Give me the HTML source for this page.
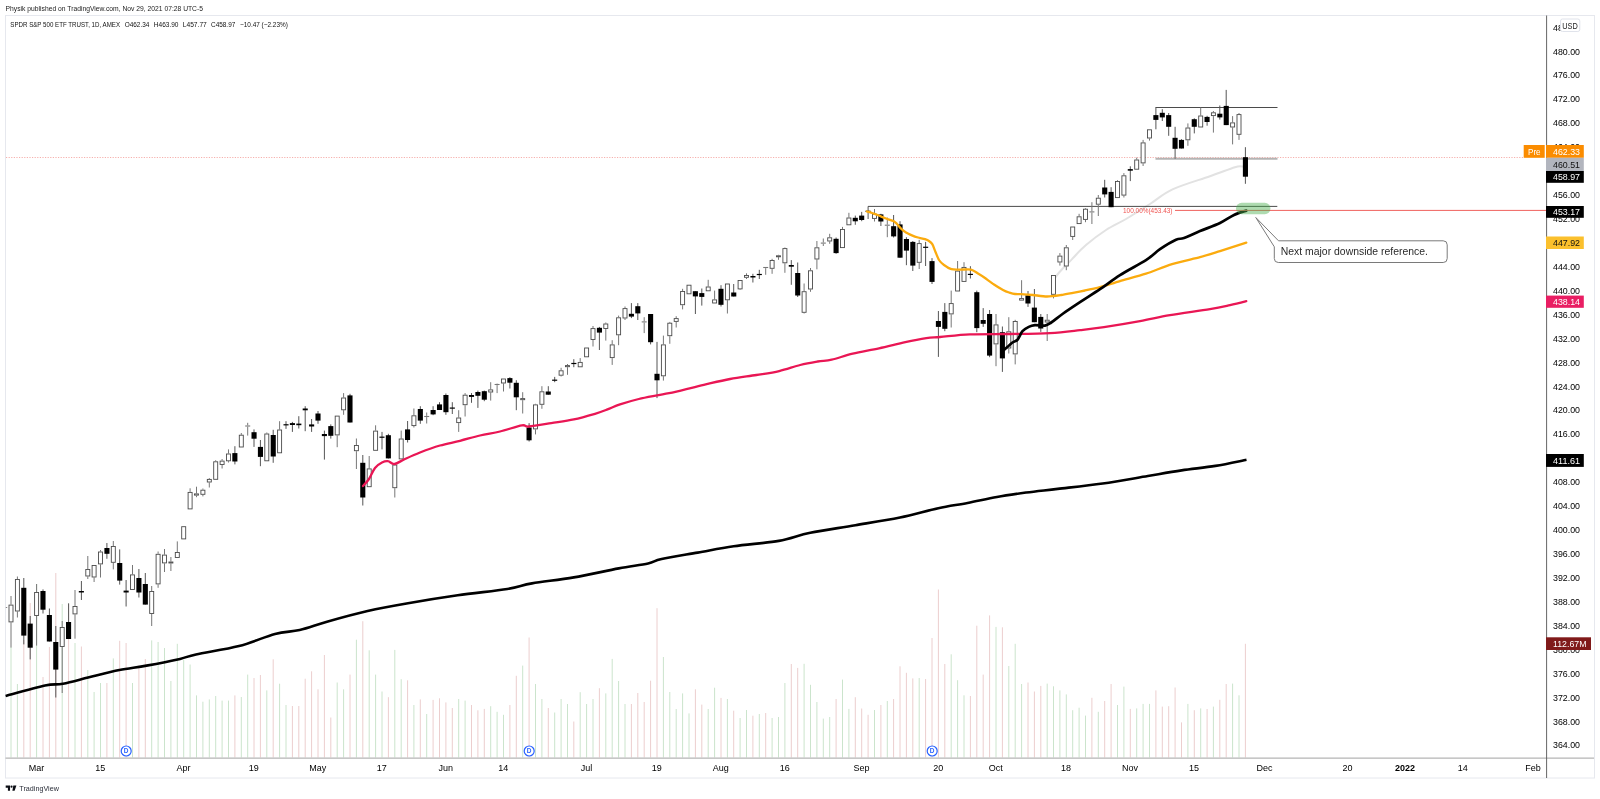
<!DOCTYPE html>
<html><head><meta charset="utf-8"><title>SPY chart</title>
<style>
html,body{margin:0;padding:0;background:#fff;}
body{width:1600px;height:799px;overflow:hidden;font-family:"Liberation Sans",sans-serif;}
svg{display:block;will-change:transform;}
svg text{font-family:"Liberation Sans",sans-serif;}
</style></head><body>
<svg width="1600" height="799" viewBox="0 0 1600 799">
<rect x="0" y="0" width="1600" height="799" fill="#fff"/>
<rect x="5.5" y="15.5" width="1589" height="762.5" fill="none" stroke="#e6e8ee" stroke-width="1"/>
<g stroke-width="1" fill="none">
<line x1="11.0" y1="647.0" x2="11.0" y2="757.5" stroke="#cbe4cc"/>
<line x1="17.4" y1="684.0" x2="17.4" y2="757.5" stroke="#cbe4cc"/>
<line x1="23.8" y1="640.0" x2="23.8" y2="757.5" stroke="#eccece"/>
<line x1="30.2" y1="603.0" x2="30.2" y2="757.5" stroke="#eccece"/>
<line x1="36.6" y1="584.0" x2="36.6" y2="757.5" stroke="#cbe4cc"/>
<line x1="43.0" y1="677.0" x2="43.0" y2="757.5" stroke="#eccece"/>
<line x1="49.4" y1="647.0" x2="49.4" y2="757.5" stroke="#eccece"/>
<line x1="55.8" y1="573.0" x2="55.8" y2="757.5" stroke="#eccece"/>
<line x1="62.2" y1="604.0" x2="62.2" y2="757.5" stroke="#cbe4cc"/>
<line x1="68.6" y1="604.0" x2="68.6" y2="757.5" stroke="#eccece"/>
<line x1="75.0" y1="643.0" x2="75.0" y2="757.5" stroke="#cbe4cc"/>
<line x1="81.4" y1="646.5" x2="81.4" y2="757.5" stroke="#eccece"/>
<line x1="87.8" y1="670.0" x2="87.8" y2="757.5" stroke="#cbe4cc"/>
<line x1="94.1" y1="692.0" x2="94.1" y2="757.5" stroke="#cbe4cc"/>
<line x1="100.5" y1="683.0" x2="100.5" y2="757.5" stroke="#cbe4cc"/>
<line x1="106.9" y1="683.0" x2="106.9" y2="757.5" stroke="#eccece"/>
<line x1="113.3" y1="658.4" x2="113.3" y2="757.5" stroke="#cbe4cc"/>
<line x1="119.7" y1="640.8" x2="119.7" y2="757.5" stroke="#eccece"/>
<line x1="126.1" y1="643.0" x2="126.1" y2="757.5" stroke="#eccece"/>
<line x1="132.5" y1="683.0" x2="132.5" y2="757.5" stroke="#cbe4cc"/>
<line x1="138.9" y1="665.6" x2="138.9" y2="757.5" stroke="#eccece"/>
<line x1="145.3" y1="659.0" x2="145.3" y2="757.5" stroke="#eccece"/>
<line x1="151.7" y1="640.4" x2="151.7" y2="757.5" stroke="#cbe4cc"/>
<line x1="158.1" y1="642.0" x2="158.1" y2="757.5" stroke="#cbe4cc"/>
<line x1="164.5" y1="648.0" x2="164.5" y2="757.5" stroke="#cbe4cc"/>
<line x1="170.9" y1="681.0" x2="170.9" y2="757.5" stroke="#cbe4cc"/>
<line x1="177.3" y1="643.8" x2="177.3" y2="757.5" stroke="#cbe4cc"/>
<line x1="183.7" y1="660.0" x2="183.7" y2="757.5" stroke="#cbe4cc"/>
<line x1="190.1" y1="664.5" x2="190.1" y2="757.5" stroke="#cbe4cc"/>
<line x1="196.5" y1="695.4" x2="196.5" y2="757.5" stroke="#cbe4cc"/>
<line x1="202.9" y1="701.7" x2="202.9" y2="757.5" stroke="#cbe4cc"/>
<line x1="209.3" y1="699.4" x2="209.3" y2="757.5" stroke="#cbe4cc"/>
<line x1="215.7" y1="696.0" x2="215.7" y2="757.5" stroke="#cbe4cc"/>
<line x1="222.1" y1="700.6" x2="222.1" y2="757.5" stroke="#cbe4cc"/>
<line x1="228.5" y1="700.6" x2="228.5" y2="757.5" stroke="#cbe4cc"/>
<line x1="234.9" y1="695.4" x2="234.9" y2="757.5" stroke="#eccece"/>
<line x1="241.3" y1="697.0" x2="241.3" y2="757.5" stroke="#cbe4cc"/>
<line x1="247.7" y1="674.6" x2="247.7" y2="757.5" stroke="#cbe4cc"/>
<line x1="254.0" y1="678.0" x2="254.0" y2="757.5" stroke="#eccece"/>
<line x1="260.4" y1="675.0" x2="260.4" y2="757.5" stroke="#eccece"/>
<line x1="266.8" y1="690.4" x2="266.8" y2="757.5" stroke="#cbe4cc"/>
<line x1="273.2" y1="659.3" x2="273.2" y2="757.5" stroke="#eccece"/>
<line x1="279.6" y1="683.7" x2="279.6" y2="757.5" stroke="#cbe4cc"/>
<line x1="286.0" y1="705.0" x2="286.0" y2="757.5" stroke="#cbe4cc"/>
<line x1="292.4" y1="706.0" x2="292.4" y2="757.5" stroke="#eccece"/>
<line x1="298.8" y1="706.0" x2="298.8" y2="757.5" stroke="#eccece"/>
<line x1="305.2" y1="678.7" x2="305.2" y2="757.5" stroke="#eccece"/>
<line x1="311.6" y1="671.3" x2="311.6" y2="757.5" stroke="#eccece"/>
<line x1="318.0" y1="689.3" x2="318.0" y2="757.5" stroke="#eccece"/>
<line x1="324.4" y1="655.0" x2="324.4" y2="757.5" stroke="#eccece"/>
<line x1="330.8" y1="717.5" x2="330.8" y2="757.5" stroke="#eccece"/>
<line x1="337.2" y1="682.5" x2="337.2" y2="757.5" stroke="#cbe4cc"/>
<line x1="343.6" y1="689.3" x2="343.6" y2="757.5" stroke="#cbe4cc"/>
<line x1="350.0" y1="674.6" x2="350.0" y2="757.5" stroke="#eccece"/>
<line x1="356.4" y1="639.7" x2="356.4" y2="757.5" stroke="#cbe4cc"/>
<line x1="362.8" y1="621.2" x2="362.8" y2="757.5" stroke="#eccece"/>
<line x1="369.2" y1="650.3" x2="369.2" y2="757.5" stroke="#cbe4cc"/>
<line x1="375.6" y1="674.6" x2="375.6" y2="757.5" stroke="#cbe4cc"/>
<line x1="382.0" y1="691.5" x2="382.0" y2="757.5" stroke="#cbe4cc"/>
<line x1="388.4" y1="697.2" x2="388.4" y2="757.5" stroke="#eccece"/>
<line x1="394.8" y1="649.9" x2="394.8" y2="757.5" stroke="#cbe4cc"/>
<line x1="401.2" y1="679.2" x2="401.2" y2="757.5" stroke="#cbe4cc"/>
<line x1="407.6" y1="680.3" x2="407.6" y2="757.5" stroke="#eccece"/>
<line x1="413.9" y1="705.0" x2="413.9" y2="757.5" stroke="#cbe4cc"/>
<line x1="420.3" y1="699.4" x2="420.3" y2="757.5" stroke="#eccece"/>
<line x1="426.7" y1="714.0" x2="426.7" y2="757.5" stroke="#cbe4cc"/>
<line x1="433.1" y1="699.9" x2="433.1" y2="757.5" stroke="#eccece"/>
<line x1="439.5" y1="698.3" x2="439.5" y2="757.5" stroke="#eccece"/>
<line x1="445.9" y1="702.4" x2="445.9" y2="757.5" stroke="#eccece"/>
<line x1="452.3" y1="708.0" x2="452.3" y2="757.5" stroke="#eccece"/>
<line x1="458.7" y1="699.0" x2="458.7" y2="757.5" stroke="#cbe4cc"/>
<line x1="465.1" y1="700.6" x2="465.1" y2="757.5" stroke="#cbe4cc"/>
<line x1="471.5" y1="705.0" x2="471.5" y2="757.5" stroke="#eccece"/>
<line x1="477.9" y1="710.3" x2="477.9" y2="757.5" stroke="#eccece"/>
<line x1="484.3" y1="708.9" x2="484.3" y2="757.5" stroke="#eccece"/>
<line x1="490.7" y1="706.2" x2="490.7" y2="757.5" stroke="#cbe4cc"/>
<line x1="497.1" y1="711.8" x2="497.1" y2="757.5" stroke="#cbe4cc"/>
<line x1="503.5" y1="714.8" x2="503.5" y2="757.5" stroke="#cbe4cc"/>
<line x1="509.9" y1="705.0" x2="509.9" y2="757.5" stroke="#eccece"/>
<line x1="516.3" y1="675.8" x2="516.3" y2="757.5" stroke="#eccece"/>
<line x1="522.7" y1="665.6" x2="522.7" y2="757.5" stroke="#cbe4cc"/>
<line x1="529.1" y1="637.5" x2="529.1" y2="757.5" stroke="#eccece"/>
<line x1="535.5" y1="684.0" x2="535.5" y2="757.5" stroke="#cbe4cc"/>
<line x1="541.9" y1="699.0" x2="541.9" y2="757.5" stroke="#cbe4cc"/>
<line x1="548.3" y1="708.0" x2="548.3" y2="757.5" stroke="#eccece"/>
<line x1="554.7" y1="712.5" x2="554.7" y2="757.5" stroke="#cbe4cc"/>
<line x1="561.1" y1="699.0" x2="561.1" y2="757.5" stroke="#cbe4cc"/>
<line x1="567.5" y1="704.0" x2="567.5" y2="757.5" stroke="#cbe4cc"/>
<line x1="573.8" y1="721.5" x2="573.8" y2="757.5" stroke="#eccece"/>
<line x1="580.2" y1="692.2" x2="580.2" y2="757.5" stroke="#cbe4cc"/>
<line x1="586.6" y1="704.0" x2="586.6" y2="757.5" stroke="#cbe4cc"/>
<line x1="593.0" y1="699.0" x2="593.0" y2="757.5" stroke="#cbe4cc"/>
<line x1="599.4" y1="688.2" x2="599.4" y2="757.5" stroke="#eccece"/>
<line x1="605.8" y1="693.4" x2="605.8" y2="757.5" stroke="#cbe4cc"/>
<line x1="612.2" y1="658.9" x2="612.2" y2="757.5" stroke="#cbe4cc"/>
<line x1="618.6" y1="681.0" x2="618.6" y2="757.5" stroke="#cbe4cc"/>
<line x1="625.0" y1="704.0" x2="625.0" y2="757.5" stroke="#cbe4cc"/>
<line x1="631.4" y1="704.0" x2="631.4" y2="757.5" stroke="#eccece"/>
<line x1="637.8" y1="693.0" x2="637.8" y2="757.5" stroke="#eccece"/>
<line x1="644.2" y1="702.0" x2="644.2" y2="757.5" stroke="#eccece"/>
<line x1="650.6" y1="680.7" x2="650.6" y2="757.5" stroke="#eccece"/>
<line x1="657.0" y1="608.2" x2="657.0" y2="757.5" stroke="#eccece"/>
<line x1="663.4" y1="657.0" x2="663.4" y2="757.5" stroke="#cbe4cc"/>
<line x1="669.8" y1="692.0" x2="669.8" y2="757.5" stroke="#cbe4cc"/>
<line x1="676.2" y1="709.0" x2="676.2" y2="757.5" stroke="#cbe4cc"/>
<line x1="682.6" y1="693.4" x2="682.6" y2="757.5" stroke="#cbe4cc"/>
<line x1="689.0" y1="713.4" x2="689.0" y2="757.5" stroke="#cbe4cc"/>
<line x1="695.4" y1="689.3" x2="695.4" y2="757.5" stroke="#eccece"/>
<line x1="701.8" y1="704.6" x2="701.8" y2="757.5" stroke="#eccece"/>
<line x1="708.2" y1="709.0" x2="708.2" y2="757.5" stroke="#cbe4cc"/>
<line x1="714.6" y1="687.7" x2="714.6" y2="757.5" stroke="#cbe4cc"/>
<line x1="721.0" y1="697.9" x2="721.0" y2="757.5" stroke="#eccece"/>
<line x1="727.4" y1="699.0" x2="727.4" y2="757.5" stroke="#cbe4cc"/>
<line x1="733.7" y1="710.7" x2="733.7" y2="757.5" stroke="#eccece"/>
<line x1="740.1" y1="718.0" x2="740.1" y2="757.5" stroke="#cbe4cc"/>
<line x1="746.5" y1="710.0" x2="746.5" y2="757.5" stroke="#cbe4cc"/>
<line x1="752.9" y1="715.7" x2="752.9" y2="757.5" stroke="#eccece"/>
<line x1="759.3" y1="714.0" x2="759.3" y2="757.5" stroke="#cbe4cc"/>
<line x1="765.7" y1="713.0" x2="765.7" y2="757.5" stroke="#eccece"/>
<line x1="772.1" y1="718.0" x2="772.1" y2="757.5" stroke="#cbe4cc"/>
<line x1="778.5" y1="717.0" x2="778.5" y2="757.5" stroke="#cbe4cc"/>
<line x1="784.9" y1="683.0" x2="784.9" y2="757.5" stroke="#cbe4cc"/>
<line x1="791.3" y1="664.0" x2="791.3" y2="757.5" stroke="#eccece"/>
<line x1="797.7" y1="667.9" x2="797.7" y2="757.5" stroke="#eccece"/>
<line x1="804.1" y1="663.8" x2="804.1" y2="757.5" stroke="#cbe4cc"/>
<line x1="810.5" y1="684.8" x2="810.5" y2="757.5" stroke="#cbe4cc"/>
<line x1="816.9" y1="702.0" x2="816.9" y2="757.5" stroke="#cbe4cc"/>
<line x1="823.3" y1="718.6" x2="823.3" y2="757.5" stroke="#cbe4cc"/>
<line x1="829.7" y1="717.0" x2="829.7" y2="757.5" stroke="#cbe4cc"/>
<line x1="836.1" y1="699.0" x2="836.1" y2="757.5" stroke="#eccece"/>
<line x1="842.5" y1="679.6" x2="842.5" y2="757.5" stroke="#cbe4cc"/>
<line x1="848.9" y1="708.9" x2="848.9" y2="757.5" stroke="#cbe4cc"/>
<line x1="855.3" y1="697.2" x2="855.3" y2="757.5" stroke="#eccece"/>
<line x1="861.7" y1="708.5" x2="861.7" y2="757.5" stroke="#eccece"/>
<line x1="868.1" y1="714.8" x2="868.1" y2="757.5" stroke="#eccece"/>
<line x1="874.5" y1="710.0" x2="874.5" y2="757.5" stroke="#cbe4cc"/>
<line x1="880.9" y1="705.0" x2="880.9" y2="757.5" stroke="#eccece"/>
<line x1="887.3" y1="701.0" x2="887.3" y2="757.5" stroke="#cbe4cc"/>
<line x1="893.6" y1="699.0" x2="893.6" y2="757.5" stroke="#eccece"/>
<line x1="900.0" y1="666.3" x2="900.0" y2="757.5" stroke="#eccece"/>
<line x1="906.4" y1="672.8" x2="906.4" y2="757.5" stroke="#eccece"/>
<line x1="912.8" y1="678.4" x2="912.8" y2="757.5" stroke="#eccece"/>
<line x1="919.2" y1="678.0" x2="919.2" y2="757.5" stroke="#cbe4cc"/>
<line x1="925.6" y1="679.0" x2="925.6" y2="757.5" stroke="#eccece"/>
<line x1="932.0" y1="638.0" x2="932.0" y2="757.5" stroke="#eccece"/>
<line x1="938.4" y1="589.5" x2="938.4" y2="757.5" stroke="#eccece"/>
<line x1="944.8" y1="664.0" x2="944.8" y2="757.5" stroke="#eccece"/>
<line x1="951.2" y1="654.3" x2="951.2" y2="757.5" stroke="#cbe4cc"/>
<line x1="957.6" y1="680.2" x2="957.6" y2="757.5" stroke="#cbe4cc"/>
<line x1="964.0" y1="695.3" x2="964.0" y2="757.5" stroke="#cbe4cc"/>
<line x1="970.4" y1="696.0" x2="970.4" y2="757.5" stroke="#eccece"/>
<line x1="976.8" y1="625.7" x2="976.8" y2="757.5" stroke="#eccece"/>
<line x1="983.2" y1="674.6" x2="983.2" y2="757.5" stroke="#eccece"/>
<line x1="989.6" y1="615.4" x2="989.6" y2="757.5" stroke="#eccece"/>
<line x1="996.0" y1="626.9" x2="996.0" y2="757.5" stroke="#cbe4cc"/>
<line x1="1002.4" y1="627.3" x2="1002.4" y2="757.5" stroke="#eccece"/>
<line x1="1008.8" y1="666.0" x2="1008.8" y2="757.5" stroke="#cbe4cc"/>
<line x1="1015.2" y1="643.8" x2="1015.2" y2="757.5" stroke="#cbe4cc"/>
<line x1="1021.6" y1="684.0" x2="1021.6" y2="757.5" stroke="#cbe4cc"/>
<line x1="1028.0" y1="682.5" x2="1028.0" y2="757.5" stroke="#eccece"/>
<line x1="1034.4" y1="691.5" x2="1034.4" y2="757.5" stroke="#eccece"/>
<line x1="1040.8" y1="685.9" x2="1040.8" y2="757.5" stroke="#eccece"/>
<line x1="1047.2" y1="683.6" x2="1047.2" y2="757.5" stroke="#cbe4cc"/>
<line x1="1053.5" y1="686.3" x2="1053.5" y2="757.5" stroke="#cbe4cc"/>
<line x1="1059.9" y1="690.4" x2="1059.9" y2="757.5" stroke="#cbe4cc"/>
<line x1="1066.3" y1="694.4" x2="1066.3" y2="757.5" stroke="#cbe4cc"/>
<line x1="1072.7" y1="710.2" x2="1072.7" y2="757.5" stroke="#cbe4cc"/>
<line x1="1079.1" y1="707.7" x2="1079.1" y2="757.5" stroke="#cbe4cc"/>
<line x1="1085.5" y1="715.6" x2="1085.5" y2="757.5" stroke="#cbe4cc"/>
<line x1="1091.9" y1="697.8" x2="1091.9" y2="757.5" stroke="#eccece"/>
<line x1="1098.3" y1="711.8" x2="1098.3" y2="757.5" stroke="#cbe4cc"/>
<line x1="1104.7" y1="701.0" x2="1104.7" y2="757.5" stroke="#eccece"/>
<line x1="1111.1" y1="684.0" x2="1111.1" y2="757.5" stroke="#eccece"/>
<line x1="1117.5" y1="705.0" x2="1117.5" y2="757.5" stroke="#cbe4cc"/>
<line x1="1123.9" y1="686.6" x2="1123.9" y2="757.5" stroke="#cbe4cc"/>
<line x1="1130.3" y1="708.9" x2="1130.3" y2="757.5" stroke="#eccece"/>
<line x1="1136.7" y1="708.4" x2="1136.7" y2="757.5" stroke="#cbe4cc"/>
<line x1="1143.1" y1="703.9" x2="1143.1" y2="757.5" stroke="#cbe4cc"/>
<line x1="1149.5" y1="703.9" x2="1149.5" y2="757.5" stroke="#cbe4cc"/>
<line x1="1155.9" y1="690.4" x2="1155.9" y2="757.5" stroke="#eccece"/>
<line x1="1162.3" y1="706.6" x2="1162.3" y2="757.5" stroke="#eccece"/>
<line x1="1168.7" y1="706.2" x2="1168.7" y2="757.5" stroke="#eccece"/>
<line x1="1175.1" y1="687.5" x2="1175.1" y2="757.5" stroke="#eccece"/>
<line x1="1181.5" y1="722.4" x2="1181.5" y2="757.5" stroke="#eccece"/>
<line x1="1187.9" y1="703.9" x2="1187.9" y2="757.5" stroke="#cbe4cc"/>
<line x1="1194.3" y1="710.2" x2="1194.3" y2="757.5" stroke="#eccece"/>
<line x1="1200.7" y1="708.4" x2="1200.7" y2="757.5" stroke="#cbe4cc"/>
<line x1="1207.1" y1="709.0" x2="1207.1" y2="757.5" stroke="#eccece"/>
<line x1="1213.4" y1="706.6" x2="1213.4" y2="757.5" stroke="#cbe4cc"/>
<line x1="1219.8" y1="699.8" x2="1219.8" y2="757.5" stroke="#eccece"/>
<line x1="1226.2" y1="684.0" x2="1226.2" y2="757.5" stroke="#eccece"/>
<line x1="1232.6" y1="683.6" x2="1232.6" y2="757.5" stroke="#cbe4cc"/>
<line x1="1239.0" y1="695.3" x2="1239.0" y2="757.5" stroke="#cbe4cc"/>
<line x1="1245.4" y1="643.8" x2="1245.4" y2="757.5" stroke="#eccece"/>
</g>
<line x1="6" y1="157.5" x2="1523" y2="157.5" stroke="#f6b0ad" stroke-width="1" stroke-dasharray="1.2 1.4"/>
<path d="M1052.0,282.0 C1053.3,280.2 1056.7,275.3 1060.0,271.5 C1063.3,267.7 1067.7,263.5 1072.0,259.1 C1076.3,254.7 1080.3,249.9 1086.0,245.1 C1091.7,240.2 1099.3,234.3 1106.0,230.0 C1112.7,225.7 1118.7,223.3 1126.0,219.0 C1133.3,214.7 1142.2,208.9 1150.0,204.0 C1157.8,199.1 1162.5,194.0 1172.5,189.4 C1182.5,184.8 1199.6,179.9 1210.0,176.2 C1220.4,172.6 1229.5,168.9 1235.0,167.2 C1240.5,165.6 1241.7,166.7 1243.0,166.6" fill="none" stroke="#e2e2e2" stroke-width="2" stroke-linecap="round"/>
<line x1="1155.5" y1="158.8" x2="1277.5" y2="158.8" stroke="#b4b4b4" stroke-width="2"/>
<line x1="1155.5" y1="107.5" x2="1277.5" y2="107.5" stroke="#2a2a2a" stroke-width="0.85"/>
<line x1="868" y1="206.4" x2="1277.3" y2="206.4" stroke="#2a2a2a" stroke-width="0.85"/>
<g>
<line x1="5.8" y1="607.5" x2="7.2" y2="607.5" stroke="#888" stroke-width="1"/>
<line x1="11.0" y1="596.0" x2="11.0" y2="604.6" stroke="#777" stroke-width="1"/>
<line x1="11.0" y1="622.4" x2="11.0" y2="647.5" stroke="#777" stroke-width="1"/>
<rect x="9.0" y="605.1" width="4" height="16.8" fill="#fff" stroke="#4a4a4a" stroke-width="0.9"/>
<line x1="17.4" y1="576.5" x2="17.4" y2="579.0" stroke="#777" stroke-width="1"/>
<line x1="17.4" y1="611.5" x2="17.4" y2="617.5" stroke="#777" stroke-width="1"/>
<rect x="15.4" y="579.5" width="4" height="31.5" fill="#fff" stroke="#4a4a4a" stroke-width="0.9"/>
<line x1="23.8" y1="578.0" x2="23.8" y2="644.4" stroke="#555" stroke-width="1"/>
<rect x="21.24" y="587.8" width="5.1" height="47.8" fill="#000"/>
<line x1="30.2" y1="616.0" x2="30.2" y2="659.4" stroke="#555" stroke-width="1"/>
<rect x="27.64" y="623.6" width="5.1" height="24.1" fill="#000"/>
<line x1="36.6" y1="584.0" x2="36.6" y2="592.0" stroke="#777" stroke-width="1"/>
<line x1="36.6" y1="616.0" x2="36.6" y2="645.6" stroke="#777" stroke-width="1"/>
<rect x="34.6" y="592.5" width="4" height="23.0" fill="#fff" stroke="#4a4a4a" stroke-width="0.9"/>
<line x1="43.0" y1="589.4" x2="43.0" y2="613.5" stroke="#555" stroke-width="1"/>
<rect x="40.43" y="591.0" width="5.1" height="18.7" fill="#000"/>
<line x1="49.4" y1="608.5" x2="49.4" y2="641.5" stroke="#555" stroke-width="1"/>
<rect x="46.83" y="615.0" width="5.1" height="26.5" fill="#000"/>
<line x1="55.8" y1="626.0" x2="55.8" y2="697.5" stroke="#555" stroke-width="1"/>
<rect x="53.22" y="642.0" width="5.1" height="27.6" fill="#000"/>
<line x1="62.2" y1="621.0" x2="62.2" y2="627.0" stroke="#777" stroke-width="1"/>
<line x1="62.2" y1="647.0" x2="62.2" y2="693.0" stroke="#777" stroke-width="1"/>
<rect x="60.2" y="627.5" width="4" height="19.0" fill="#fff" stroke="#4a4a4a" stroke-width="0.9"/>
<line x1="68.6" y1="603.3" x2="68.6" y2="639.0" stroke="#555" stroke-width="1"/>
<rect x="66.01" y="622.0" width="5.1" height="17.0" fill="#000"/>
<line x1="75.0" y1="590.0" x2="75.0" y2="606.0" stroke="#777" stroke-width="1"/>
<line x1="75.0" y1="614.4" x2="75.0" y2="638.7" stroke="#777" stroke-width="1"/>
<rect x="73.0" y="606.5" width="4" height="7.4" fill="#fff" stroke="#4a4a4a" stroke-width="0.9"/>
<line x1="81.4" y1="581.0" x2="81.4" y2="600.0" stroke="#555" stroke-width="1"/>
<rect x="78.81" y="591.0" width="5.1" height="1.5" fill="#000"/>
<line x1="87.8" y1="556.0" x2="87.8" y2="569.0" stroke="#777" stroke-width="1"/>
<line x1="87.8" y1="576.5" x2="87.8" y2="579.0" stroke="#777" stroke-width="1"/>
<rect x="85.8" y="569.5" width="4" height="6.5" fill="#fff" stroke="#4a4a4a" stroke-width="0.9"/>
<line x1="94.1" y1="577.5" x2="94.1" y2="582.0" stroke="#777" stroke-width="1"/>
<rect x="92.1" y="565.5" width="4" height="11.5" fill="#fff" stroke="#4a4a4a" stroke-width="0.9"/>
<line x1="100.5" y1="550.0" x2="100.5" y2="551.5" stroke="#777" stroke-width="1"/>
<line x1="100.5" y1="564.4" x2="100.5" y2="577.5" stroke="#777" stroke-width="1"/>
<rect x="98.5" y="552.0" width="4" height="11.9" fill="#fff" stroke="#4a4a4a" stroke-width="0.9"/>
<line x1="106.9" y1="543.0" x2="106.9" y2="558.8" stroke="#555" stroke-width="1"/>
<rect x="104.39" y="548.0" width="5.1" height="5.8" fill="#000"/>
<line x1="113.3" y1="541.0" x2="113.3" y2="546.0" stroke="#777" stroke-width="1"/>
<line x1="113.3" y1="562.8" x2="113.3" y2="569.4" stroke="#777" stroke-width="1"/>
<rect x="111.3" y="546.5" width="4" height="15.8" fill="#fff" stroke="#4a4a4a" stroke-width="0.9"/>
<line x1="119.7" y1="549.4" x2="119.7" y2="584.6" stroke="#555" stroke-width="1"/>
<rect x="117.18" y="563.0" width="5.1" height="17.6" fill="#000"/>
<line x1="126.1" y1="580.0" x2="126.1" y2="606.5" stroke="#555" stroke-width="1"/>
<rect x="123.58" y="590.6" width="5.1" height="1.9" fill="#000"/>
<line x1="132.5" y1="565.0" x2="132.5" y2="574.4" stroke="#777" stroke-width="1"/>
<rect x="130.5" y="574.9" width="4" height="14.6" fill="#fff" stroke="#4a4a4a" stroke-width="0.9"/>
<line x1="138.9" y1="569.0" x2="138.9" y2="597.5" stroke="#555" stroke-width="1"/>
<rect x="136.37" y="578.0" width="5.1" height="14.5" fill="#000"/>
<line x1="145.3" y1="573.0" x2="145.3" y2="604.6" stroke="#555" stroke-width="1"/>
<rect x="142.77" y="584.0" width="5.1" height="20.6" fill="#000"/>
<line x1="151.7" y1="586.0" x2="151.7" y2="591.0" stroke="#777" stroke-width="1"/>
<line x1="151.7" y1="614.0" x2="151.7" y2="626.0" stroke="#777" stroke-width="1"/>
<rect x="149.7" y="591.5" width="4" height="22.0" fill="#fff" stroke="#4a4a4a" stroke-width="0.9"/>
<line x1="158.1" y1="551.5" x2="158.1" y2="553.8" stroke="#777" stroke-width="1"/>
<line x1="158.1" y1="584.4" x2="158.1" y2="587.8" stroke="#777" stroke-width="1"/>
<rect x="156.1" y="554.3" width="4" height="29.6" fill="#fff" stroke="#4a4a4a" stroke-width="0.9"/>
<line x1="164.5" y1="549.0" x2="164.5" y2="554.6" stroke="#777" stroke-width="1"/>
<line x1="164.5" y1="563.4" x2="164.5" y2="572.0" stroke="#777" stroke-width="1"/>
<rect x="162.5" y="555.1" width="4" height="7.8" fill="#fff" stroke="#4a4a4a" stroke-width="0.9"/>
<line x1="170.9" y1="557.0" x2="170.9" y2="561.5" stroke="#777" stroke-width="1"/>
<line x1="170.9" y1="563.5" x2="170.9" y2="571.0" stroke="#777" stroke-width="1"/>
<rect x="168.9" y="562.0" width="4" height="1.0" fill="#fff" stroke="#4a4a4a" stroke-width="0.9"/>
<line x1="177.3" y1="541.4" x2="177.3" y2="552.0" stroke="#777" stroke-width="1"/>
<rect x="175.3" y="552.5" width="4" height="5.0" fill="#fff" stroke="#4a4a4a" stroke-width="0.9"/>
<rect x="181.7" y="526.7" width="4" height="12.2" fill="#fff" stroke="#4a4a4a" stroke-width="0.9"/>
<line x1="190.1" y1="488.3" x2="190.1" y2="491.9" stroke="#777" stroke-width="1"/>
<rect x="188.1" y="492.4" width="4" height="16.5" fill="#fff" stroke="#4a4a4a" stroke-width="0.9"/>
<line x1="196.5" y1="486.7" x2="196.5" y2="493.4" stroke="#777" stroke-width="1"/>
<line x1="196.5" y1="495.6" x2="196.5" y2="497.2" stroke="#777" stroke-width="1"/>
<rect x="194.5" y="493.9" width="4" height="1.2" fill="#fff" stroke="#4a4a4a" stroke-width="0.9"/>
<line x1="202.9" y1="488.5" x2="202.9" y2="489.7" stroke="#777" stroke-width="1"/>
<line x1="202.9" y1="494.8" x2="202.9" y2="496.4" stroke="#777" stroke-width="1"/>
<rect x="200.9" y="490.2" width="4" height="4.1" fill="#fff" stroke="#4a4a4a" stroke-width="0.9"/>
<line x1="209.3" y1="478.0" x2="209.3" y2="478.9" stroke="#777" stroke-width="1"/>
<line x1="209.3" y1="482.5" x2="209.3" y2="487.5" stroke="#777" stroke-width="1"/>
<rect x="207.3" y="479.4" width="4" height="2.6" fill="#fff" stroke="#4a4a4a" stroke-width="0.9"/>
<line x1="215.7" y1="460.2" x2="215.7" y2="461.2" stroke="#777" stroke-width="1"/>
<rect x="213.7" y="461.8" width="4" height="17.5" fill="#fff" stroke="#4a4a4a" stroke-width="0.9"/>
<line x1="222.1" y1="459.0" x2="222.1" y2="460.6" stroke="#777" stroke-width="1"/>
<line x1="222.1" y1="465.0" x2="222.1" y2="468.5" stroke="#777" stroke-width="1"/>
<rect x="220.1" y="461.1" width="4" height="3.4" fill="#fff" stroke="#4a4a4a" stroke-width="0.9"/>
<line x1="228.5" y1="449.4" x2="228.5" y2="453.5" stroke="#777" stroke-width="1"/>
<line x1="228.5" y1="461.2" x2="228.5" y2="462.5" stroke="#777" stroke-width="1"/>
<rect x="226.5" y="454.0" width="4" height="6.8" fill="#fff" stroke="#4a4a4a" stroke-width="0.9"/>
<line x1="234.9" y1="446.2" x2="234.9" y2="464.4" stroke="#555" stroke-width="1"/>
<rect x="232.31" y="453.1" width="5.1" height="8.4" fill="#000"/>
<line x1="241.3" y1="433.0" x2="241.3" y2="434.8" stroke="#777" stroke-width="1"/>
<rect x="239.3" y="435.2" width="4" height="11.8" fill="#fff" stroke="#4a4a4a" stroke-width="0.9"/>
<line x1="247.7" y1="422.8" x2="247.7" y2="425.4" stroke="#777" stroke-width="1"/>
<line x1="247.7" y1="426.6" x2="247.7" y2="435.6" stroke="#777" stroke-width="1"/>
<line x1="245.2" y1="426.0" x2="250.2" y2="426.0" stroke="#777" stroke-width="1.1"/>
<line x1="254.0" y1="429.4" x2="254.0" y2="446.9" stroke="#555" stroke-width="1"/>
<rect x="251.50" y="432.2" width="5.1" height="6.5" fill="#000"/>
<line x1="260.4" y1="440.0" x2="260.4" y2="466.2" stroke="#555" stroke-width="1"/>
<rect x="257.89" y="446.9" width="5.1" height="10.0" fill="#000"/>
<line x1="266.8" y1="432.5" x2="266.8" y2="433.5" stroke="#777" stroke-width="1"/>
<rect x="264.8" y="434.0" width="4" height="26.8" fill="#fff" stroke="#4a4a4a" stroke-width="0.9"/>
<line x1="273.2" y1="429.8" x2="273.2" y2="462.8" stroke="#555" stroke-width="1"/>
<rect x="270.69" y="435.0" width="5.1" height="21.5" fill="#000"/>
<line x1="279.6" y1="421.2" x2="279.6" y2="429.5" stroke="#777" stroke-width="1"/>
<rect x="277.6" y="430.0" width="4" height="22.8" fill="#fff" stroke="#4a4a4a" stroke-width="0.9"/>
<line x1="286.0" y1="421.2" x2="286.0" y2="428.9" stroke="#555" stroke-width="1"/>
<rect x="283.48" y="424.2" width="5.1" height="1.2" fill="#000"/>
<line x1="292.4" y1="421.9" x2="292.4" y2="431.9" stroke="#555" stroke-width="1"/>
<rect x="289.87" y="423.1" width="5.1" height="1.9" fill="#000"/>
<line x1="298.8" y1="416.2" x2="298.8" y2="428.5" stroke="#555" stroke-width="1"/>
<rect x="296.27" y="423.6" width="5.1" height="1.6" fill="#000"/>
<line x1="305.2" y1="406.2" x2="305.2" y2="431.2" stroke="#555" stroke-width="1"/>
<rect x="302.67" y="408.5" width="5.1" height="1.8" fill="#000"/>
<line x1="311.6" y1="419.0" x2="311.6" y2="431.9" stroke="#555" stroke-width="1"/>
<rect x="309.06" y="424.4" width="5.1" height="2.1" fill="#000"/>
<line x1="318.0" y1="411.0" x2="318.0" y2="423.8" stroke="#555" stroke-width="1"/>
<rect x="315.46" y="413.5" width="5.1" height="7.1" fill="#000"/>
<line x1="324.4" y1="430.6" x2="324.4" y2="459.6" stroke="#555" stroke-width="1"/>
<rect x="321.85" y="434.0" width="5.1" height="2.1" fill="#000"/>
<line x1="330.8" y1="424.4" x2="330.8" y2="438.6" stroke="#555" stroke-width="1"/>
<rect x="328.25" y="426.1" width="5.1" height="9.7" fill="#000"/>
<line x1="337.2" y1="435.4" x2="337.2" y2="447.2" stroke="#777" stroke-width="1"/>
<rect x="335.2" y="416.1" width="4" height="18.8" fill="#fff" stroke="#4a4a4a" stroke-width="0.9"/>
<line x1="343.6" y1="393.1" x2="343.6" y2="397.5" stroke="#777" stroke-width="1"/>
<line x1="343.6" y1="410.2" x2="343.6" y2="414.8" stroke="#777" stroke-width="1"/>
<rect x="341.6" y="398.0" width="4" height="11.8" fill="#fff" stroke="#4a4a4a" stroke-width="0.9"/>
<line x1="350.0" y1="393.8" x2="350.0" y2="422.5" stroke="#555" stroke-width="1"/>
<rect x="347.44" y="395.4" width="5.1" height="27.1" fill="#000"/>
<line x1="356.4" y1="438.5" x2="356.4" y2="445.0" stroke="#777" stroke-width="1"/>
<line x1="356.4" y1="451.2" x2="356.4" y2="469.0" stroke="#777" stroke-width="1"/>
<rect x="354.4" y="445.5" width="4" height="5.2" fill="#fff" stroke="#4a4a4a" stroke-width="0.9"/>
<line x1="362.8" y1="455.0" x2="362.8" y2="505.5" stroke="#555" stroke-width="1"/>
<rect x="360.23" y="462.8" width="5.1" height="34.7" fill="#000"/>
<line x1="369.2" y1="456.0" x2="369.2" y2="468.4" stroke="#777" stroke-width="1"/>
<rect x="367.2" y="468.9" width="4" height="17.8" fill="#fff" stroke="#4a4a4a" stroke-width="0.9"/>
<line x1="375.6" y1="425.3" x2="375.6" y2="430.6" stroke="#777" stroke-width="1"/>
<rect x="373.6" y="431.1" width="4" height="19.2" fill="#fff" stroke="#4a4a4a" stroke-width="0.9"/>
<line x1="382.0" y1="431.9" x2="382.0" y2="449.4" stroke="#555" stroke-width="1"/>
<rect x="379.42" y="436.6" width="5.1" height="1.2" fill="#000"/>
<line x1="388.4" y1="433.8" x2="388.4" y2="458.5" stroke="#555" stroke-width="1"/>
<rect x="385.81" y="435.2" width="5.1" height="23.2" fill="#000"/>
<line x1="394.8" y1="488.2" x2="394.8" y2="497.5" stroke="#777" stroke-width="1"/>
<rect x="392.8" y="465.0" width="4" height="22.7" fill="#fff" stroke="#4a4a4a" stroke-width="0.9"/>
<line x1="401.2" y1="430.6" x2="401.2" y2="438.5" stroke="#777" stroke-width="1"/>
<rect x="399.2" y="439.0" width="4" height="19.9" fill="#fff" stroke="#4a4a4a" stroke-width="0.9"/>
<line x1="407.6" y1="421.0" x2="407.6" y2="442.5" stroke="#555" stroke-width="1"/>
<rect x="405.00" y="429.4" width="5.1" height="10.6" fill="#000"/>
<line x1="413.9" y1="408.5" x2="413.9" y2="415.2" stroke="#777" stroke-width="1"/>
<line x1="413.9" y1="426.0" x2="413.9" y2="427.5" stroke="#777" stroke-width="1"/>
<rect x="411.9" y="415.8" width="4" height="9.8" fill="#fff" stroke="#4a4a4a" stroke-width="0.9"/>
<line x1="420.3" y1="406.2" x2="420.3" y2="423.8" stroke="#555" stroke-width="1"/>
<rect x="417.79" y="409.0" width="5.1" height="11.6" fill="#000"/>
<line x1="426.7" y1="412.5" x2="426.7" y2="415.9" stroke="#777" stroke-width="1"/>
<line x1="426.7" y1="417.1" x2="426.7" y2="423.5" stroke="#777" stroke-width="1"/>
<line x1="424.2" y1="416.5" x2="429.2" y2="416.5" stroke="#777" stroke-width="1.1"/>
<line x1="433.1" y1="406.2" x2="433.1" y2="415.2" stroke="#555" stroke-width="1"/>
<rect x="430.59" y="410.0" width="5.1" height="4.4" fill="#000"/>
<line x1="439.5" y1="402.2" x2="439.5" y2="410.0" stroke="#555" stroke-width="1"/>
<rect x="436.98" y="404.4" width="5.1" height="5.6" fill="#000"/>
<line x1="445.9" y1="393.5" x2="445.9" y2="414.8" stroke="#555" stroke-width="1"/>
<rect x="443.38" y="395.0" width="5.1" height="17.2" fill="#000"/>
<line x1="452.3" y1="402.2" x2="452.3" y2="414.0" stroke="#555" stroke-width="1"/>
<rect x="449.77" y="407.5" width="5.1" height="1.2" fill="#000"/>
<line x1="458.7" y1="410.2" x2="458.7" y2="417.5" stroke="#777" stroke-width="1"/>
<line x1="458.7" y1="423.1" x2="458.7" y2="431.9" stroke="#777" stroke-width="1"/>
<rect x="456.7" y="418.0" width="4" height="4.6" fill="#fff" stroke="#4a4a4a" stroke-width="0.9"/>
<line x1="465.1" y1="393.1" x2="465.1" y2="394.8" stroke="#777" stroke-width="1"/>
<line x1="465.1" y1="405.2" x2="465.1" y2="416.5" stroke="#777" stroke-width="1"/>
<rect x="463.1" y="395.2" width="4" height="9.5" fill="#fff" stroke="#4a4a4a" stroke-width="0.9"/>
<line x1="471.5" y1="393.1" x2="471.5" y2="402.8" stroke="#555" stroke-width="1"/>
<rect x="468.96" y="395.0" width="5.1" height="1.9" fill="#000"/>
<line x1="477.9" y1="390.6" x2="477.9" y2="407.9" stroke="#555" stroke-width="1"/>
<rect x="475.36" y="392.0" width="5.1" height="3.8" fill="#000"/>
<line x1="484.3" y1="390.6" x2="484.3" y2="401.2" stroke="#555" stroke-width="1"/>
<rect x="481.75" y="391.2" width="5.1" height="8.5" fill="#000"/>
<line x1="490.7" y1="382.2" x2="490.7" y2="389.4" stroke="#777" stroke-width="1"/>
<line x1="490.7" y1="392.5" x2="490.7" y2="400.6" stroke="#777" stroke-width="1"/>
<rect x="488.7" y="389.9" width="4" height="2.1" fill="#fff" stroke="#4a4a4a" stroke-width="0.9"/>
<line x1="497.1" y1="383.5" x2="497.1" y2="383.9" stroke="#777" stroke-width="1"/>
<line x1="497.1" y1="385.1" x2="497.1" y2="393.1" stroke="#777" stroke-width="1"/>
<line x1="494.6" y1="384.5" x2="499.6" y2="384.5" stroke="#777" stroke-width="1.1"/>
<line x1="503.5" y1="383.5" x2="503.5" y2="391.5" stroke="#777" stroke-width="1"/>
<rect x="501.5" y="379.0" width="4" height="4.0" fill="#fff" stroke="#4a4a4a" stroke-width="0.9"/>
<line x1="509.9" y1="377.2" x2="509.9" y2="388.5" stroke="#555" stroke-width="1"/>
<rect x="507.34" y="378.1" width="5.1" height="4.6" fill="#000"/>
<line x1="516.3" y1="380.2" x2="516.3" y2="410.2" stroke="#555" stroke-width="1"/>
<rect x="513.73" y="382.8" width="5.1" height="14.5" fill="#000"/>
<line x1="522.7" y1="392.2" x2="522.7" y2="398.1" stroke="#777" stroke-width="1"/>
<line x1="522.7" y1="400.2" x2="522.7" y2="413.5" stroke="#777" stroke-width="1"/>
<rect x="520.7" y="398.6" width="4" height="1.1" fill="#fff" stroke="#4a4a4a" stroke-width="0.9"/>
<line x1="529.1" y1="423.1" x2="529.1" y2="441.5" stroke="#555" stroke-width="1"/>
<rect x="526.53" y="427.5" width="5.1" height="12.8" fill="#000"/>
<line x1="535.5" y1="403.8" x2="535.5" y2="404.4" stroke="#777" stroke-width="1"/>
<line x1="535.5" y1="429.4" x2="535.5" y2="434.4" stroke="#777" stroke-width="1"/>
<rect x="533.5" y="404.9" width="4" height="24.0" fill="#fff" stroke="#4a4a4a" stroke-width="0.9"/>
<line x1="541.9" y1="386.2" x2="541.9" y2="391.2" stroke="#777" stroke-width="1"/>
<line x1="541.9" y1="404.8" x2="541.9" y2="408.8" stroke="#777" stroke-width="1"/>
<rect x="539.9" y="391.8" width="4" height="12.5" fill="#fff" stroke="#4a4a4a" stroke-width="0.9"/>
<line x1="548.3" y1="386.2" x2="548.3" y2="394.8" stroke="#555" stroke-width="1"/>
<rect x="545.71" y="391.5" width="5.1" height="3.2" fill="#000"/>
<line x1="554.7" y1="376.9" x2="554.7" y2="382.2" stroke="#555" stroke-width="1"/>
<rect x="552.11" y="379.6" width="5.1" height="1.2" fill="#000"/>
<line x1="561.1" y1="367.8" x2="561.1" y2="370.2" stroke="#777" stroke-width="1"/>
<line x1="561.1" y1="375.6" x2="561.1" y2="376.5" stroke="#777" stroke-width="1"/>
<rect x="559.1" y="370.8" width="4" height="4.4" fill="#fff" stroke="#4a4a4a" stroke-width="0.9"/>
<line x1="567.5" y1="364.0" x2="567.5" y2="365.1" stroke="#777" stroke-width="1"/>
<line x1="567.5" y1="367.2" x2="567.5" y2="374.8" stroke="#777" stroke-width="1"/>
<rect x="565.5" y="365.6" width="4" height="1.1" fill="#fff" stroke="#4a4a4a" stroke-width="0.9"/>
<line x1="573.8" y1="359.2" x2="573.8" y2="367.2" stroke="#555" stroke-width="1"/>
<rect x="571.30" y="362.9" width="5.1" height="1.2" fill="#000"/>
<line x1="580.2" y1="358.1" x2="580.2" y2="361.9" stroke="#777" stroke-width="1"/>
<rect x="578.2" y="362.4" width="4" height="4.4" fill="#fff" stroke="#4a4a4a" stroke-width="0.9"/>
<rect x="584.6" y="348.0" width="4" height="8.8" fill="#fff" stroke="#4a4a4a" stroke-width="0.9"/>
<line x1="593.0" y1="326.0" x2="593.0" y2="328.1" stroke="#777" stroke-width="1"/>
<line x1="593.0" y1="340.0" x2="593.0" y2="346.5" stroke="#777" stroke-width="1"/>
<rect x="591.0" y="328.6" width="4" height="10.9" fill="#fff" stroke="#4a4a4a" stroke-width="0.9"/>
<line x1="599.4" y1="326.9" x2="599.4" y2="350.0" stroke="#555" stroke-width="1"/>
<rect x="596.88" y="327.8" width="5.1" height="4.8" fill="#000"/>
<line x1="605.8" y1="322.5" x2="605.8" y2="323.5" stroke="#777" stroke-width="1"/>
<line x1="605.8" y1="329.0" x2="605.8" y2="340.6" stroke="#777" stroke-width="1"/>
<rect x="603.8" y="324.0" width="4" height="4.5" fill="#fff" stroke="#4a4a4a" stroke-width="0.9"/>
<line x1="612.2" y1="340.2" x2="612.2" y2="344.4" stroke="#777" stroke-width="1"/>
<line x1="612.2" y1="358.1" x2="612.2" y2="364.9" stroke="#777" stroke-width="1"/>
<rect x="610.2" y="344.9" width="4" height="12.7" fill="#fff" stroke="#4a4a4a" stroke-width="0.9"/>
<line x1="618.6" y1="315.6" x2="618.6" y2="317.2" stroke="#777" stroke-width="1"/>
<line x1="618.6" y1="335.2" x2="618.6" y2="345.2" stroke="#777" stroke-width="1"/>
<rect x="616.6" y="317.8" width="4" height="17.0" fill="#fff" stroke="#4a4a4a" stroke-width="0.9"/>
<line x1="625.0" y1="306.5" x2="625.0" y2="308.1" stroke="#777" stroke-width="1"/>
<line x1="625.0" y1="318.5" x2="625.0" y2="320.0" stroke="#777" stroke-width="1"/>
<rect x="623.0" y="308.6" width="4" height="9.4" fill="#fff" stroke="#4a4a4a" stroke-width="0.9"/>
<line x1="631.4" y1="303.1" x2="631.4" y2="318.1" stroke="#555" stroke-width="1"/>
<rect x="628.86" y="313.8" width="5.1" height="2.8" fill="#000"/>
<line x1="637.8" y1="303.1" x2="637.8" y2="320.0" stroke="#555" stroke-width="1"/>
<rect x="635.26" y="306.2" width="5.1" height="7.2" fill="#000"/>
<line x1="644.2" y1="317.2" x2="644.2" y2="321.3" stroke="#777" stroke-width="1"/>
<line x1="644.2" y1="322.5" x2="644.2" y2="333.1" stroke="#777" stroke-width="1"/>
<line x1="641.7" y1="321.9" x2="646.7" y2="321.9" stroke="#777" stroke-width="1.1"/>
<line x1="650.6" y1="314.0" x2="650.6" y2="344.4" stroke="#555" stroke-width="1"/>
<rect x="648.05" y="314.0" width="5.1" height="28.2" fill="#000"/>
<line x1="657.0" y1="341.9" x2="657.0" y2="398.1" stroke="#555" stroke-width="1"/>
<rect x="654.45" y="373.8" width="5.1" height="6.5" fill="#000"/>
<line x1="663.4" y1="335.6" x2="663.4" y2="344.4" stroke="#777" stroke-width="1"/>
<line x1="663.4" y1="376.2" x2="663.4" y2="380.6" stroke="#777" stroke-width="1"/>
<rect x="661.4" y="344.9" width="4" height="30.9" fill="#fff" stroke="#4a4a4a" stroke-width="0.9"/>
<line x1="669.8" y1="321.9" x2="669.8" y2="322.8" stroke="#777" stroke-width="1"/>
<line x1="669.8" y1="336.2" x2="669.8" y2="343.8" stroke="#777" stroke-width="1"/>
<rect x="667.8" y="323.2" width="4" height="12.5" fill="#fff" stroke="#4a4a4a" stroke-width="0.9"/>
<line x1="676.2" y1="316.2" x2="676.2" y2="318.1" stroke="#777" stroke-width="1"/>
<line x1="676.2" y1="321.9" x2="676.2" y2="327.5" stroke="#777" stroke-width="1"/>
<rect x="674.2" y="318.6" width="4" height="2.8" fill="#fff" stroke="#4a4a4a" stroke-width="0.9"/>
<line x1="682.6" y1="288.8" x2="682.6" y2="291.0" stroke="#777" stroke-width="1"/>
<line x1="682.6" y1="305.2" x2="682.6" y2="309.4" stroke="#777" stroke-width="1"/>
<rect x="680.6" y="291.5" width="4" height="13.2" fill="#fff" stroke="#4a4a4a" stroke-width="0.9"/>
<rect x="687.0" y="285.2" width="4" height="8.6" fill="#fff" stroke="#4a4a4a" stroke-width="0.9"/>
<line x1="695.4" y1="291.2" x2="695.4" y2="314.0" stroke="#555" stroke-width="1"/>
<rect x="692.82" y="291.2" width="5.1" height="5.2" fill="#000"/>
<line x1="701.8" y1="288.5" x2="701.8" y2="305.6" stroke="#555" stroke-width="1"/>
<rect x="699.22" y="293.1" width="5.1" height="3.8" fill="#000"/>
<line x1="708.2" y1="279.8" x2="708.2" y2="286.5" stroke="#777" stroke-width="1"/>
<rect x="706.2" y="287.0" width="4" height="3.8" fill="#fff" stroke="#4a4a4a" stroke-width="0.9"/>
<line x1="714.6" y1="290.6" x2="714.6" y2="299.4" stroke="#777" stroke-width="1"/>
<rect x="712.6" y="299.9" width="4" height="3.1" fill="#fff" stroke="#4a4a4a" stroke-width="0.9"/>
<line x1="721.0" y1="285.2" x2="721.0" y2="306.5" stroke="#555" stroke-width="1"/>
<rect x="718.41" y="288.8" width="5.1" height="16.0" fill="#000"/>
<line x1="727.4" y1="300.2" x2="727.4" y2="313.5" stroke="#777" stroke-width="1"/>
<rect x="725.4" y="284.0" width="4" height="15.8" fill="#fff" stroke="#4a4a4a" stroke-width="0.9"/>
<line x1="733.7" y1="284.0" x2="733.7" y2="296.5" stroke="#555" stroke-width="1"/>
<rect x="731.20" y="292.5" width="5.1" height="4.0" fill="#000"/>
<line x1="740.1" y1="289.4" x2="740.1" y2="290.0" stroke="#777" stroke-width="1"/>
<rect x="738.1" y="280.5" width="4" height="8.4" fill="#fff" stroke="#4a4a4a" stroke-width="0.9"/>
<line x1="746.5" y1="273.3" x2="746.5" y2="275.0" stroke="#777" stroke-width="1"/>
<line x1="746.5" y1="277.8" x2="746.5" y2="279.0" stroke="#777" stroke-width="1"/>
<rect x="744.5" y="275.5" width="4" height="1.8" fill="#fff" stroke="#4a4a4a" stroke-width="0.9"/>
<line x1="752.9" y1="273.8" x2="752.9" y2="282.5" stroke="#555" stroke-width="1"/>
<rect x="750.39" y="276.0" width="5.1" height="1.5" fill="#000"/>
<line x1="759.3" y1="269.8" x2="759.3" y2="279.0" stroke="#555" stroke-width="1"/>
<rect x="756.78" y="273.9" width="5.1" height="1.2" fill="#000"/>
<line x1="765.7" y1="268.1" x2="765.7" y2="274.8" stroke="#777" stroke-width="1"/>
<line x1="763.2" y1="267.5" x2="768.2" y2="267.5" stroke="#777" stroke-width="1.1"/>
<line x1="772.1" y1="258.8" x2="772.1" y2="260.0" stroke="#777" stroke-width="1"/>
<line x1="772.1" y1="268.8" x2="772.1" y2="273.8" stroke="#777" stroke-width="1"/>
<rect x="770.1" y="260.5" width="4" height="7.8" fill="#fff" stroke="#4a4a4a" stroke-width="0.9"/>
<line x1="778.5" y1="254.8" x2="778.5" y2="255.2" stroke="#777" stroke-width="1"/>
<line x1="778.5" y1="257.2" x2="778.5" y2="259.8" stroke="#777" stroke-width="1"/>
<rect x="776.5" y="255.8" width="4" height="1.0" fill="#fff" stroke="#4a4a4a" stroke-width="0.9"/>
<line x1="784.9" y1="247.5" x2="784.9" y2="248.1" stroke="#777" stroke-width="1"/>
<line x1="784.9" y1="263.3" x2="784.9" y2="272.8" stroke="#777" stroke-width="1"/>
<rect x="782.9" y="248.6" width="4" height="14.2" fill="#fff" stroke="#4a4a4a" stroke-width="0.9"/>
<line x1="791.3" y1="260.1" x2="791.3" y2="284.8" stroke="#555" stroke-width="1"/>
<rect x="788.76" y="265.0" width="5.1" height="1.7" fill="#000"/>
<line x1="797.7" y1="262.5" x2="797.7" y2="297.0" stroke="#555" stroke-width="1"/>
<rect x="795.16" y="273.0" width="5.1" height="22.5" fill="#000"/>
<line x1="804.1" y1="283.5" x2="804.1" y2="291.2" stroke="#777" stroke-width="1"/>
<line x1="804.1" y1="312.8" x2="804.1" y2="313.5" stroke="#777" stroke-width="1"/>
<rect x="802.1" y="291.7" width="4" height="20.6" fill="#fff" stroke="#4a4a4a" stroke-width="0.9"/>
<line x1="810.5" y1="268.0" x2="810.5" y2="270.3" stroke="#777" stroke-width="1"/>
<line x1="810.5" y1="289.5" x2="810.5" y2="291.8" stroke="#777" stroke-width="1"/>
<rect x="808.5" y="270.8" width="4" height="18.2" fill="#fff" stroke="#4a4a4a" stroke-width="0.9"/>
<line x1="816.9" y1="241.0" x2="816.9" y2="247.2" stroke="#777" stroke-width="1"/>
<line x1="816.9" y1="259.4" x2="816.9" y2="269.3" stroke="#777" stroke-width="1"/>
<rect x="814.9" y="247.8" width="4" height="11.2" fill="#fff" stroke="#4a4a4a" stroke-width="0.9"/>
<line x1="823.3" y1="238.5" x2="823.3" y2="242.5" stroke="#777" stroke-width="1"/>
<line x1="823.3" y1="243.7" x2="823.3" y2="246.0" stroke="#777" stroke-width="1"/>
<line x1="820.8" y1="243.1" x2="825.8" y2="243.1" stroke="#777" stroke-width="1.1"/>
<line x1="829.7" y1="233.8" x2="829.7" y2="237.2" stroke="#777" stroke-width="1"/>
<line x1="829.7" y1="241.5" x2="829.7" y2="243.8" stroke="#777" stroke-width="1"/>
<rect x="827.7" y="237.8" width="4" height="3.2" fill="#fff" stroke="#4a4a4a" stroke-width="0.9"/>
<line x1="836.1" y1="237.5" x2="836.1" y2="253.8" stroke="#555" stroke-width="1"/>
<rect x="833.53" y="238.8" width="5.1" height="14.3" fill="#000"/>
<line x1="842.5" y1="226.9" x2="842.5" y2="229.0" stroke="#777" stroke-width="1"/>
<rect x="840.5" y="229.5" width="4" height="18.1" fill="#fff" stroke="#4a4a4a" stroke-width="0.9"/>
<line x1="848.9" y1="212.8" x2="848.9" y2="217.5" stroke="#777" stroke-width="1"/>
<rect x="846.9" y="218.0" width="4" height="6.8" fill="#fff" stroke="#4a4a4a" stroke-width="0.9"/>
<line x1="855.3" y1="215.6" x2="855.3" y2="224.8" stroke="#555" stroke-width="1"/>
<rect x="852.72" y="217.8" width="5.1" height="3.5" fill="#000"/>
<line x1="861.7" y1="211.9" x2="861.7" y2="221.2" stroke="#555" stroke-width="1"/>
<rect x="859.12" y="215.6" width="5.1" height="4.4" fill="#000"/>
<line x1="868.1" y1="206.4" x2="868.1" y2="219.0" stroke="#555" stroke-width="1"/>
<rect x="865.51" y="210.7" width="5.1" height="1.2" fill="#000"/>
<line x1="874.5" y1="209.0" x2="874.5" y2="213.8" stroke="#777" stroke-width="1"/>
<line x1="874.5" y1="219.0" x2="874.5" y2="221.5" stroke="#777" stroke-width="1"/>
<rect x="872.5" y="214.2" width="4" height="4.2" fill="#fff" stroke="#4a4a4a" stroke-width="0.9"/>
<line x1="880.9" y1="213.8" x2="880.9" y2="226.0" stroke="#555" stroke-width="1"/>
<rect x="878.31" y="214.4" width="5.1" height="7.1" fill="#000"/>
<line x1="887.3" y1="217.5" x2="887.3" y2="224.7" stroke="#777" stroke-width="1"/>
<line x1="887.3" y1="225.8" x2="887.3" y2="237.2" stroke="#777" stroke-width="1"/>
<line x1="884.8" y1="225.2" x2="889.8" y2="225.2" stroke="#777" stroke-width="1.1"/>
<line x1="893.6" y1="215.0" x2="893.6" y2="237.5" stroke="#555" stroke-width="1"/>
<rect x="891.10" y="226.2" width="5.1" height="10.2" fill="#000"/>
<line x1="900.0" y1="221.2" x2="900.0" y2="257.8" stroke="#555" stroke-width="1"/>
<rect x="897.49" y="224.4" width="5.1" height="33.3" fill="#000"/>
<line x1="906.4" y1="237.2" x2="906.4" y2="265.2" stroke="#555" stroke-width="1"/>
<rect x="903.89" y="239.0" width="5.1" height="11.6" fill="#000"/>
<line x1="912.8" y1="241.0" x2="912.8" y2="271.0" stroke="#555" stroke-width="1"/>
<rect x="910.29" y="241.9" width="5.1" height="23.7" fill="#000"/>
<line x1="919.2" y1="239.8" x2="919.2" y2="243.1" stroke="#777" stroke-width="1"/>
<line x1="919.2" y1="262.8" x2="919.2" y2="269.0" stroke="#777" stroke-width="1"/>
<rect x="917.2" y="243.6" width="4" height="18.7" fill="#fff" stroke="#4a4a4a" stroke-width="0.9"/>
<line x1="925.6" y1="241.9" x2="925.6" y2="266.0" stroke="#555" stroke-width="1"/>
<rect x="923.08" y="246.7" width="5.1" height="1.2" fill="#000"/>
<line x1="932.0" y1="258.1" x2="932.0" y2="284.0" stroke="#555" stroke-width="1"/>
<rect x="929.47" y="261.1" width="5.1" height="20.8" fill="#000"/>
<line x1="938.4" y1="311.0" x2="938.4" y2="356.9" stroke="#555" stroke-width="1"/>
<rect x="935.87" y="321.0" width="5.1" height="5.9" fill="#000"/>
<line x1="944.8" y1="303.1" x2="944.8" y2="331.2" stroke="#555" stroke-width="1"/>
<rect x="942.27" y="311.9" width="5.1" height="16.9" fill="#000"/>
<line x1="951.2" y1="290.6" x2="951.2" y2="303.1" stroke="#777" stroke-width="1"/>
<line x1="951.2" y1="314.4" x2="951.2" y2="327.5" stroke="#777" stroke-width="1"/>
<rect x="949.2" y="303.6" width="4" height="10.3" fill="#fff" stroke="#4a4a4a" stroke-width="0.9"/>
<line x1="957.6" y1="261.0" x2="957.6" y2="270.6" stroke="#777" stroke-width="1"/>
<rect x="955.6" y="271.1" width="4" height="19.9" fill="#fff" stroke="#4a4a4a" stroke-width="0.9"/>
<line x1="964.0" y1="262.2" x2="964.0" y2="266.9" stroke="#777" stroke-width="1"/>
<rect x="962.0" y="267.4" width="4" height="14.0" fill="#fff" stroke="#4a4a4a" stroke-width="0.9"/>
<line x1="970.4" y1="266.2" x2="970.4" y2="278.5" stroke="#555" stroke-width="1"/>
<rect x="967.85" y="273.8" width="5.1" height="1.2" fill="#000"/>
<line x1="976.8" y1="290.6" x2="976.8" y2="332.2" stroke="#555" stroke-width="1"/>
<rect x="974.25" y="292.2" width="5.1" height="35.9" fill="#000"/>
<line x1="983.2" y1="308.1" x2="983.2" y2="326.9" stroke="#555" stroke-width="1"/>
<rect x="980.64" y="320.0" width="5.1" height="3.8" fill="#000"/>
<line x1="989.6" y1="310.0" x2="989.6" y2="357.2" stroke="#555" stroke-width="1"/>
<rect x="987.04" y="314.0" width="5.1" height="41.6" fill="#000"/>
<line x1="996.0" y1="314.0" x2="996.0" y2="324.4" stroke="#777" stroke-width="1"/>
<line x1="996.0" y1="344.4" x2="996.0" y2="366.2" stroke="#777" stroke-width="1"/>
<rect x="994.0" y="324.9" width="4" height="19.0" fill="#fff" stroke="#4a4a4a" stroke-width="0.9"/>
<line x1="1002.4" y1="326.5" x2="1002.4" y2="371.9" stroke="#555" stroke-width="1"/>
<rect x="999.83" y="332.2" width="5.1" height="26.2" fill="#000"/>
<line x1="1008.8" y1="317.2" x2="1008.8" y2="331.2" stroke="#777" stroke-width="1"/>
<line x1="1008.8" y1="348.5" x2="1008.8" y2="353.5" stroke="#777" stroke-width="1"/>
<rect x="1006.8" y="331.8" width="4" height="16.2" fill="#fff" stroke="#4a4a4a" stroke-width="0.9"/>
<line x1="1015.2" y1="319.8" x2="1015.2" y2="321.0" stroke="#777" stroke-width="1"/>
<line x1="1015.2" y1="354.4" x2="1015.2" y2="364.4" stroke="#777" stroke-width="1"/>
<rect x="1013.2" y="321.5" width="4" height="32.4" fill="#fff" stroke="#4a4a4a" stroke-width="0.9"/>
<line x1="1021.6" y1="280.2" x2="1021.6" y2="298.1" stroke="#777" stroke-width="1"/>
<rect x="1019.6" y="298.6" width="4" height="1.5" fill="#fff" stroke="#4a4a4a" stroke-width="0.9"/>
<line x1="1028.0" y1="291.0" x2="1028.0" y2="306.9" stroke="#555" stroke-width="1"/>
<rect x="1025.41" y="295.3" width="5.1" height="8.2" fill="#000"/>
<line x1="1034.4" y1="289.0" x2="1034.4" y2="322.2" stroke="#555" stroke-width="1"/>
<rect x="1031.81" y="307.6" width="5.1" height="14.6" fill="#000"/>
<line x1="1040.8" y1="314.0" x2="1040.8" y2="331.9" stroke="#555" stroke-width="1"/>
<rect x="1038.21" y="316.9" width="5.1" height="11.6" fill="#000"/>
<line x1="1047.2" y1="314.0" x2="1047.2" y2="319.8" stroke="#777" stroke-width="1"/>
<line x1="1047.2" y1="322.5" x2="1047.2" y2="341.0" stroke="#777" stroke-width="1"/>
<rect x="1045.2" y="320.2" width="4" height="1.8" fill="#fff" stroke="#4a4a4a" stroke-width="0.9"/>
<line x1="1053.5" y1="294.8" x2="1053.5" y2="298.4" stroke="#777" stroke-width="1"/>
<rect x="1051.5" y="275.5" width="4" height="18.8" fill="#fff" stroke="#4a4a4a" stroke-width="0.9"/>
<line x1="1059.9" y1="253.1" x2="1059.9" y2="255.6" stroke="#777" stroke-width="1"/>
<line x1="1059.9" y1="262.5" x2="1059.9" y2="265.6" stroke="#777" stroke-width="1"/>
<rect x="1057.9" y="256.1" width="4" height="5.9" fill="#fff" stroke="#4a4a4a" stroke-width="0.9"/>
<line x1="1066.3" y1="245.0" x2="1066.3" y2="247.2" stroke="#777" stroke-width="1"/>
<line x1="1066.3" y1="266.5" x2="1066.3" y2="270.2" stroke="#777" stroke-width="1"/>
<rect x="1064.3" y="247.8" width="4" height="18.2" fill="#fff" stroke="#4a4a4a" stroke-width="0.9"/>
<line x1="1072.7" y1="236.9" x2="1072.7" y2="240.0" stroke="#777" stroke-width="1"/>
<rect x="1070.7" y="227.0" width="4" height="9.4" fill="#fff" stroke="#4a4a4a" stroke-width="0.9"/>
<line x1="1079.1" y1="213.8" x2="1079.1" y2="216.2" stroke="#777" stroke-width="1"/>
<rect x="1077.1" y="216.8" width="4" height="6.8" fill="#fff" stroke="#4a4a4a" stroke-width="0.9"/>
<line x1="1085.5" y1="208.1" x2="1085.5" y2="208.8" stroke="#777" stroke-width="1"/>
<line x1="1085.5" y1="220.0" x2="1085.5" y2="222.2" stroke="#777" stroke-width="1"/>
<rect x="1083.5" y="209.2" width="4" height="10.2" fill="#fff" stroke="#4a4a4a" stroke-width="0.9"/>
<line x1="1091.9" y1="202.2" x2="1091.9" y2="211.3" stroke="#777" stroke-width="1"/>
<line x1="1091.9" y1="212.5" x2="1091.9" y2="224.0" stroke="#777" stroke-width="1"/>
<line x1="1089.4" y1="211.9" x2="1094.4" y2="211.9" stroke="#777" stroke-width="1.1"/>
<line x1="1098.3" y1="195.0" x2="1098.3" y2="197.8" stroke="#777" stroke-width="1"/>
<line x1="1098.3" y1="204.8" x2="1098.3" y2="216.0" stroke="#777" stroke-width="1"/>
<rect x="1096.3" y="198.2" width="4" height="6.0" fill="#fff" stroke="#4a4a4a" stroke-width="0.9"/>
<line x1="1104.7" y1="179.8" x2="1104.7" y2="197.5" stroke="#555" stroke-width="1"/>
<rect x="1102.17" y="187.5" width="5.1" height="6.9" fill="#000"/>
<line x1="1111.1" y1="187.2" x2="1111.1" y2="207.2" stroke="#555" stroke-width="1"/>
<rect x="1108.56" y="191.9" width="5.1" height="15.3" fill="#000"/>
<line x1="1117.5" y1="180.2" x2="1117.5" y2="181.0" stroke="#777" stroke-width="1"/>
<rect x="1115.5" y="181.5" width="4" height="16.1" fill="#fff" stroke="#4a4a4a" stroke-width="0.9"/>
<line x1="1123.9" y1="173.1" x2="1123.9" y2="175.2" stroke="#777" stroke-width="1"/>
<line x1="1123.9" y1="195.6" x2="1123.9" y2="197.5" stroke="#777" stroke-width="1"/>
<rect x="1121.9" y="175.8" width="4" height="19.3" fill="#fff" stroke="#4a4a4a" stroke-width="0.9"/>
<line x1="1130.3" y1="166.3" x2="1130.3" y2="181.1" stroke="#555" stroke-width="1"/>
<rect x="1127.75" y="169.1" width="5.1" height="1.6" fill="#000"/>
<line x1="1136.7" y1="157.6" x2="1136.7" y2="159.5" stroke="#777" stroke-width="1"/>
<rect x="1134.7" y="160.0" width="4" height="9.2" fill="#fff" stroke="#4a4a4a" stroke-width="0.9"/>
<line x1="1143.1" y1="139.9" x2="1143.1" y2="142.4" stroke="#777" stroke-width="1"/>
<line x1="1143.1" y1="163.4" x2="1143.1" y2="166.0" stroke="#777" stroke-width="1"/>
<rect x="1141.1" y="142.9" width="4" height="20.0" fill="#fff" stroke="#4a4a4a" stroke-width="0.9"/>
<line x1="1149.5" y1="138.5" x2="1149.5" y2="140.6" stroke="#777" stroke-width="1"/>
<rect x="1147.5" y="129.8" width="4" height="8.2" fill="#fff" stroke="#4a4a4a" stroke-width="0.9"/>
<line x1="1155.9" y1="107.5" x2="1155.9" y2="129.3" stroke="#555" stroke-width="1"/>
<rect x="1153.33" y="115.1" width="5.1" height="4.8" fill="#000"/>
<line x1="1162.3" y1="109.2" x2="1162.3" y2="121.0" stroke="#555" stroke-width="1"/>
<rect x="1159.73" y="112.8" width="5.1" height="4.6" fill="#000"/>
<line x1="1168.7" y1="113.0" x2="1168.7" y2="135.8" stroke="#555" stroke-width="1"/>
<rect x="1166.13" y="115.1" width="5.1" height="11.7" fill="#000"/>
<line x1="1175.1" y1="126.8" x2="1175.1" y2="158.7" stroke="#555" stroke-width="1"/>
<rect x="1172.52" y="137.8" width="5.1" height="11.0" fill="#000"/>
<line x1="1181.5" y1="139.2" x2="1181.5" y2="148.5" stroke="#555" stroke-width="1"/>
<rect x="1178.92" y="139.9" width="5.1" height="8.6" fill="#000"/>
<line x1="1187.9" y1="123.4" x2="1187.9" y2="127.5" stroke="#777" stroke-width="1"/>
<line x1="1187.9" y1="140.3" x2="1187.9" y2="145.8" stroke="#777" stroke-width="1"/>
<rect x="1185.9" y="128.0" width="4" height="11.8" fill="#fff" stroke="#4a4a4a" stroke-width="0.9"/>
<line x1="1194.3" y1="118.3" x2="1194.3" y2="133.4" stroke="#555" stroke-width="1"/>
<rect x="1191.71" y="119.2" width="5.1" height="7.6" fill="#000"/>
<line x1="1200.7" y1="107.5" x2="1200.7" y2="115.5" stroke="#777" stroke-width="1"/>
<rect x="1198.7" y="116.0" width="4" height="11.0" fill="#fff" stroke="#4a4a4a" stroke-width="0.9"/>
<line x1="1207.1" y1="115.8" x2="1207.1" y2="125.7" stroke="#555" stroke-width="1"/>
<rect x="1204.50" y="116.9" width="5.1" height="5.1" fill="#000"/>
<line x1="1213.4" y1="111.0" x2="1213.4" y2="112.3" stroke="#777" stroke-width="1"/>
<line x1="1213.4" y1="116.1" x2="1213.4" y2="132.6" stroke="#777" stroke-width="1"/>
<rect x="1211.4" y="112.8" width="4" height="2.8" fill="#fff" stroke="#4a4a4a" stroke-width="0.9"/>
<line x1="1219.8" y1="105.5" x2="1219.8" y2="119.6" stroke="#555" stroke-width="1"/>
<rect x="1217.29" y="113.7" width="5.1" height="3.7" fill="#000"/>
<line x1="1226.2" y1="89.9" x2="1226.2" y2="125.1" stroke="#555" stroke-width="1"/>
<rect x="1223.69" y="105.9" width="5.1" height="19.2" fill="#000"/>
<line x1="1232.6" y1="116.1" x2="1232.6" y2="122.4" stroke="#777" stroke-width="1"/>
<line x1="1232.6" y1="127.5" x2="1232.6" y2="144.4" stroke="#777" stroke-width="1"/>
<rect x="1230.6" y="122.9" width="4" height="4.1" fill="#fff" stroke="#4a4a4a" stroke-width="0.9"/>
<line x1="1239.0" y1="113.0" x2="1239.0" y2="114.1" stroke="#777" stroke-width="1"/>
<line x1="1239.0" y1="134.8" x2="1239.0" y2="139.9" stroke="#777" stroke-width="1"/>
<rect x="1237.0" y="114.6" width="4" height="19.7" fill="#fff" stroke="#4a4a4a" stroke-width="0.9"/>
<line x1="1245.4" y1="147.2" x2="1245.4" y2="183.8" stroke="#555" stroke-width="1"/>
<rect x="1242.88" y="157.2" width="5.1" height="19.5" fill="#000"/>
</g>
<path d="M5.6,696.0 C12.2,694.2 35.4,687.5 45.0,685.5 C54.6,683.5 55.5,685.1 63.0,683.7 C70.5,682.3 80.6,679.3 90.0,677.0 C99.4,674.7 110.0,671.9 119.4,670.0 C128.8,668.1 136.4,667.5 146.5,665.6 C156.6,663.8 171.8,660.8 180.0,658.9 C188.2,657.0 186.2,656.5 196.0,654.4 C205.8,652.2 225.8,649.4 239.0,646.0 C252.2,642.6 264.9,636.7 275.0,634.0 C285.1,631.3 291.0,632.0 299.7,630.0 C308.4,628.0 315.7,624.9 327.0,621.7 C338.3,618.5 354.1,614.1 367.6,611.0 C381.1,607.9 393.0,605.8 408.0,603.2 C423.0,600.6 441.1,597.7 457.7,595.3 C474.2,592.9 494.9,591.0 507.3,589.0 C519.7,587.0 520.9,585.3 532.0,583.4 C543.1,581.5 559.3,579.9 573.8,577.4 C588.3,574.9 606.4,570.7 618.8,568.4 C631.2,566.1 641.0,565.1 648.1,563.5 C655.2,561.9 653.3,560.8 661.6,559.0 C669.9,557.2 685.7,554.7 697.7,552.6 C709.7,550.5 720.2,548.2 733.7,546.3 C747.2,544.3 766.0,543.1 778.8,540.9 C791.6,538.6 797.5,535.4 810.3,532.8 C823.1,530.2 840.4,527.8 855.4,525.2 C870.4,522.7 886.2,520.3 900.0,517.5 C913.8,514.7 927.0,510.6 938.3,508.2 C949.6,505.8 957.8,504.9 967.6,503.0 C977.4,501.1 987.1,498.8 996.9,497.0 C1006.7,495.2 1016.1,493.9 1026.2,492.5 C1036.3,491.1 1045.0,490.4 1057.7,488.9 C1070.5,487.4 1087.7,485.6 1102.7,483.5 C1117.7,481.4 1134.7,478.2 1147.8,476.0 C1160.9,473.8 1170.3,472.1 1181.6,470.4 C1192.9,468.7 1204.6,467.7 1215.4,465.9 C1226.2,464.1 1241.3,460.8 1246.5,459.8" fill="none" stroke="#000" stroke-width="2.6" stroke-linejoin="round"/>
<path d="M363.0,486.0 C364.0,484.8 367.0,482.0 369.0,479.0 C371.0,476.0 372.8,470.8 375.0,468.0 C377.2,465.2 379.8,463.6 382.0,462.5 C384.2,461.4 385.9,460.9 388.0,461.2 C390.1,461.4 391.7,464.4 394.5,464.0 C397.3,463.6 400.8,460.9 405.0,459.0 C409.2,457.1 414.2,454.8 420.0,452.5 C425.8,450.2 433.3,447.4 440.0,445.5 C446.7,443.6 453.3,442.5 460.0,440.8 C466.7,439.1 473.3,437.1 480.0,435.5 C486.7,433.9 493.0,433.2 500.0,431.5 C507.0,429.8 517.1,426.2 521.9,425.4 C526.7,424.6 523.9,426.9 528.8,426.5 C533.6,426.1 543.8,424.3 551.2,423.1 C558.8,421.9 566.5,421.0 573.8,419.4 C581.0,417.8 589.4,415.4 595.0,413.8 C600.6,412.1 603.3,411.0 607.5,409.4 C611.7,407.8 614.8,406.1 620.0,404.4 C625.2,402.7 632.1,400.6 638.8,399.0 C645.4,397.4 653.5,396.1 660.0,394.8 C666.5,393.5 670.2,393.0 677.5,391.3 C684.8,389.6 695.0,386.9 703.8,384.8 C712.6,382.8 721.3,380.6 730.1,379.0 C738.9,377.4 748.2,376.3 756.4,375.0 C764.6,373.7 771.9,372.8 779.2,371.1 C786.5,369.4 793.8,366.6 800.2,365.0 C806.6,363.4 812.5,362.4 817.7,361.5 C823.0,360.6 825.9,361.0 831.7,359.7 C837.5,358.4 844.8,355.5 852.7,353.6 C860.6,351.7 870.2,350.2 879.0,348.3 C887.8,346.4 897.4,343.9 905.3,342.2 C913.2,340.5 920.5,339.1 926.3,338.2 C932.1,337.3 932.7,337.6 940.0,337.0 C947.3,336.4 958.3,334.9 970.0,334.4 C981.7,333.9 996.7,334.2 1010.0,334.0 C1023.3,333.8 1038.3,333.7 1050.0,333.1 C1061.7,332.5 1071.0,331.2 1080.0,330.2 C1089.0,329.2 1094.0,328.7 1104.0,327.2 C1114.0,325.7 1129.0,323.2 1140.0,321.2 C1151.0,319.2 1158.3,317.2 1170.0,315.2 C1181.7,313.2 1200.0,310.9 1210.0,309.2 C1220.0,307.5 1224.0,306.5 1230.0,305.2 C1236.0,303.9 1243.6,301.9 1246.3,301.2" fill="none" stroke="#e91654" stroke-width="2.3" stroke-linejoin="round" stroke-linecap="round"/>
<path d="M866.9,211.5 C867.6,211.7 870.6,212.5 872.0,213.0 C873.4,213.5 875.6,214.3 877.5,215.0 C879.4,215.7 883.8,217.7 886.0,218.5 C888.2,219.3 892.3,220.5 893.8,221.2 C895.2,222.0 896.0,223.0 897.0,224.0 C898.0,225.0 900.0,227.6 901.2,228.8 C902.5,229.9 904.5,231.6 906.0,232.5 C907.5,233.4 910.9,234.9 912.5,235.6 C914.1,236.3 916.3,237.0 918.0,237.5 C919.7,238.0 923.5,238.7 925.0,239.2 C926.5,239.7 928.0,240.3 929.0,241.0 C930.0,241.7 931.4,242.7 932.3,244.2 C933.2,245.7 934.6,249.9 935.5,252.0 C936.4,254.1 937.9,258.3 939.0,260.0 C940.1,261.7 942.3,263.8 944.0,265.0 C945.7,266.2 949.4,268.6 951.5,269.2 C953.6,269.8 957.4,269.5 960.0,269.6 C962.6,269.7 968.6,269.1 971.0,269.6 C973.4,270.1 976.1,272.4 978.0,273.5 C979.9,274.6 982.9,276.5 985.0,278.0 C987.1,279.5 991.6,282.9 994.0,284.5 C996.4,286.1 1001.0,288.9 1003.0,290.0 C1005.0,291.1 1007.4,292.0 1009.0,292.5 C1010.6,293.0 1013.0,293.8 1015.0,294.0 C1017.0,294.2 1021.6,294.2 1024.0,294.3 C1026.4,294.4 1029.9,294.7 1033.0,295.0 C1036.1,295.3 1043.3,296.5 1047.0,296.5 C1050.7,296.5 1057.5,295.5 1061.0,295.0 C1064.5,294.5 1069.8,293.4 1073.0,292.8 C1076.2,292.2 1081.4,291.2 1085.0,290.5 C1088.6,289.8 1095.3,288.5 1100.0,287.2 C1104.7,285.9 1113.9,282.9 1120.0,281.1 C1126.1,279.3 1139.1,276.0 1146.0,273.7 C1152.9,271.4 1164.8,266.3 1172.0,264.1 C1179.2,261.9 1193.6,258.8 1200.0,257.1 C1206.4,255.4 1213.8,253.0 1220.0,251.1 C1226.2,249.2 1242.8,243.8 1246.3,242.7" fill="none" stroke="#fbab0e" stroke-width="2.3" stroke-linejoin="round" stroke-linecap="round"/>
<path d="M1004.0,350.0 C1005.4,348.8 1010.2,344.2 1012.5,342.5 C1014.8,340.8 1015.8,341.6 1017.5,339.8 C1019.2,337.9 1020.6,333.4 1022.5,331.2 C1024.4,329.1 1026.7,327.9 1028.8,326.9 C1030.8,325.9 1032.3,325.5 1035.0,325.2 C1037.7,325.0 1042.3,326.1 1045.0,325.6 C1047.7,325.1 1048.3,324.4 1051.2,322.5 C1054.2,320.6 1057.7,317.4 1062.5,314.0 C1067.3,310.6 1073.8,306.3 1080.0,302.2 C1086.2,298.1 1093.3,293.7 1100.0,289.2 C1106.7,284.7 1112.3,280.0 1120.0,275.1 C1127.7,270.2 1139.3,264.4 1146.0,260.1 C1152.7,255.8 1155.0,252.5 1160.0,249.1 C1165.0,245.7 1172.0,241.5 1176.0,239.7 C1180.0,237.9 1180.0,239.5 1184.0,238.1 C1188.0,236.7 1194.0,233.6 1200.0,231.1 C1206.0,228.6 1214.3,225.7 1220.0,223.0 C1225.7,220.3 1229.6,217.1 1234.0,215.0 C1238.4,212.9 1244.2,211.3 1246.3,210.6" fill="none" stroke="#000" stroke-width="2.7" stroke-linejoin="round" stroke-linecap="round"/>
<line x1="1175" y1="210.4" x2="1546" y2="210.4" stroke="#f0625d" stroke-width="1"/>
<text x="1123" y="213.2" font-size="7" fill="#ef5350" textLength="49.5" lengthAdjust="spacingAndGlyphs">100.00%(453.43)</text>
<rect x="1236" y="202.8" width="34.5" height="11.4" rx="5.7" ry="5.7" fill="#4caf50" fill-opacity="0.45"/>
<path d="M1278.5,240.8 L1443.2,240.8 Q1447.2,240.8 1447.2,244.8 L1447.2,258.5 Q1447.2,262.5 1443.2,262.5 L1278.3,262.5 Q1274.3,262.5 1274.3,258.5 L1274.3,246.8 L1255.8,217.5 Z" fill="#fff" stroke="#7a7a7a" stroke-width="1" stroke-linejoin="round"/>
<text x="1280.7" y="254.8" font-size="10" fill="#2a2a2a" textLength="147.3" lengthAdjust="spacingAndGlyphs">Next major downside reference.</text>
<line x1="5.5" y1="758.1" x2="1594" y2="758.1" stroke="#b5b5b5" stroke-width="1.1"/>
<line x1="1546.6" y1="15.5" x2="1546.6" y2="778" stroke="#555" stroke-width="0.9"/>
<g font-size="9" fill="#000">
<text x="1553" y="748.4" textLength="27" lengthAdjust="spacingAndGlyphs">364.00</text>
<text x="1553" y="724.5" textLength="27" lengthAdjust="spacingAndGlyphs">368.00</text>
<text x="1553" y="700.6" textLength="27" lengthAdjust="spacingAndGlyphs">372.00</text>
<text x="1553" y="676.6" textLength="27" lengthAdjust="spacingAndGlyphs">376.00</text>
<text x="1553" y="652.7" textLength="27" lengthAdjust="spacingAndGlyphs">380.00</text>
<text x="1553" y="628.8" textLength="27" lengthAdjust="spacingAndGlyphs">384.00</text>
<text x="1553" y="604.8" textLength="27" lengthAdjust="spacingAndGlyphs">388.00</text>
<text x="1553" y="580.9" textLength="27" lengthAdjust="spacingAndGlyphs">392.00</text>
<text x="1553" y="557.0" textLength="27" lengthAdjust="spacingAndGlyphs">396.00</text>
<text x="1553" y="533.1" textLength="27" lengthAdjust="spacingAndGlyphs">400.00</text>
<text x="1553" y="509.1" textLength="27" lengthAdjust="spacingAndGlyphs">404.00</text>
<text x="1553" y="485.2" textLength="27" lengthAdjust="spacingAndGlyphs">408.00</text>
<text x="1553" y="461.3" textLength="27" lengthAdjust="spacingAndGlyphs">412.00</text>
<text x="1553" y="437.3" textLength="27" lengthAdjust="spacingAndGlyphs">416.00</text>
<text x="1553" y="413.4" textLength="27" lengthAdjust="spacingAndGlyphs">420.00</text>
<text x="1553" y="389.5" textLength="27" lengthAdjust="spacingAndGlyphs">424.00</text>
<text x="1553" y="365.5" textLength="27" lengthAdjust="spacingAndGlyphs">428.00</text>
<text x="1553" y="341.6" textLength="27" lengthAdjust="spacingAndGlyphs">432.00</text>
<text x="1553" y="317.7" textLength="27" lengthAdjust="spacingAndGlyphs">436.00</text>
<text x="1553" y="293.8" textLength="27" lengthAdjust="spacingAndGlyphs">440.00</text>
<text x="1553" y="269.8" textLength="27" lengthAdjust="spacingAndGlyphs">444.00</text>
<text x="1553" y="245.9" textLength="27" lengthAdjust="spacingAndGlyphs">448.00</text>
<text x="1553" y="222.0" textLength="27" lengthAdjust="spacingAndGlyphs">452.00</text>
<text x="1553" y="198.0" textLength="27" lengthAdjust="spacingAndGlyphs">456.00</text>
<text x="1553" y="174.1" textLength="27" lengthAdjust="spacingAndGlyphs">460.00</text>
<text x="1553" y="150.2" textLength="27" lengthAdjust="spacingAndGlyphs">464.00</text>
<text x="1553" y="126.2" textLength="27" lengthAdjust="spacingAndGlyphs">468.00</text>
<text x="1553" y="102.3" textLength="27" lengthAdjust="spacingAndGlyphs">472.00</text>
<text x="1553" y="78.4" textLength="27" lengthAdjust="spacingAndGlyphs">476.00</text>
<text x="1553" y="54.5" textLength="27" lengthAdjust="spacingAndGlyphs">480.00</text>
<text x="1553" y="30.5" textLength="27" lengthAdjust="spacingAndGlyphs">484.00</text>
</g>
<rect x="1560.5" y="19" width="19.3" height="12.5" rx="2" fill="#fff" stroke="#e0e3eb" stroke-width="1"/>
<text x="1562.3" y="28.5" font-size="9" fill="#222" textLength="15.5" lengthAdjust="spacingAndGlyphs">USD</text>
<rect x="1546" y="206" width="37.8" height="11.80" fill="#000"/>
<text x="1553" y="215.1" font-size="9" fill="#fff" textLength="27" lengthAdjust="spacingAndGlyphs">453.17</text>
<rect x="1546" y="145" width="37.8" height="12.80" fill="#fb8c00"/>
<text x="1553" y="154.6" font-size="9" fill="#fff" textLength="27" lengthAdjust="spacingAndGlyphs">462.33</text>
<rect x="1523.7" y="145" width="21" height="12.8" fill="#fb8c00"/>
<text x="1528" y="154.6" font-size="9" fill="#fff" textLength="12.6" lengthAdjust="spacingAndGlyphs">Pre</text>
<rect x="1546" y="157.8" width="37.8" height="13.20" fill="#b2b5be"/>
<text x="1553" y="167.6" font-size="9" fill="#111" textLength="27" lengthAdjust="spacingAndGlyphs">460.51</text>
<rect x="1546" y="171" width="37.8" height="11.80" fill="#000"/>
<text x="1553" y="180.1" font-size="9" fill="#fff" textLength="27" lengthAdjust="spacingAndGlyphs">458.97</text>
<rect x="1546" y="236.5" width="37.8" height="12.50" fill="#fbc02d"/>
<text x="1553" y="245.9" font-size="9" fill="#111" textLength="27" lengthAdjust="spacingAndGlyphs">447.92</text>
<rect x="1546" y="295.6" width="37.8" height="12.20" fill="#e91e63"/>
<text x="1553" y="304.9" font-size="9" fill="#fff" textLength="27" lengthAdjust="spacingAndGlyphs">438.14</text>
<rect x="1546" y="454" width="37.8" height="12.90" fill="#000"/>
<text x="1553" y="463.6" font-size="9" fill="#fff" textLength="27" lengthAdjust="spacingAndGlyphs">411.61</text>
<rect x="1546" y="637.3" width="45.0" height="12.70" fill="#801a1a"/>
<text x="1553" y="646.9" font-size="9" fill="#fff" textLength="33.5" lengthAdjust="spacingAndGlyphs">112.67M</text>
<g font-size="9" fill="#000" text-anchor="middle">
<text x="36.4" y="771.2">Mar</text>
<text x="100.3" y="771.2">15</text>
<text x="183.5" y="771.2">Apr</text>
<text x="253.8" y="771.2">19</text>
<text x="317.8" y="771.2">May</text>
<text x="381.8" y="771.2">17</text>
<text x="445.7" y="771.2">Jun</text>
<text x="503.3" y="771.2">14</text>
<text x="586.4" y="771.2">Jul</text>
<text x="656.8" y="771.2">19</text>
<text x="720.8" y="771.2">Aug</text>
<text x="784.7" y="771.2">16</text>
<text x="861.5" y="771.2">Sep</text>
<text x="938.2" y="771.2">20</text>
<text x="995.8" y="771.2">Oct</text>
<text x="1066.1" y="771.2">18</text>
<text x="1130.1" y="771.2">Nov</text>
<text x="1194.1" y="771.2">15</text>
<text x="1264.4" y="771.2">Dec</text>
<text x="1347.6" y="771.2">20</text>
<text x="1405.1" y="771.2" font-weight="bold">2022</text>
<text x="1462.7" y="771.2">14</text>
<text x="1533.0" y="771.2">Feb</text>
</g>
<circle cx="126.2" cy="751" r="5" fill="#fff" stroke="#2962ff" stroke-width="1.2"/>
<text x="126.2" y="753.3" font-size="6.5" font-weight="bold" fill="#2962ff" text-anchor="middle">D</text>
<circle cx="529.2" cy="751" r="5" fill="#fff" stroke="#2962ff" stroke-width="1.2"/>
<text x="529.2" y="753.3" font-size="6.5" font-weight="bold" fill="#2962ff" text-anchor="middle">D</text>
<circle cx="932.2" cy="751" r="5" fill="#fff" stroke="#2962ff" stroke-width="1.2"/>
<text x="932.2" y="753.3" font-size="6.5" font-weight="bold" fill="#2962ff" text-anchor="middle">D</text>
<text x="5.6" y="10.9" font-size="7" fill="#222" textLength="197.4" lengthAdjust="spacingAndGlyphs">Physik published on TradingView.com, Nov 29, 2021 07:28 UTC-5</text>
<text x="10.3" y="26.5" font-size="7" fill="#111" textLength="109.7" lengthAdjust="spacingAndGlyphs">SPDR S&amp;P 500 ETF TRUST, 1D, AMEX</text>
<text x="124.7" y="26.5" font-size="7" fill="#111" textLength="24.7" lengthAdjust="spacingAndGlyphs">O462.34</text>
<text x="153.8" y="26.5" font-size="7" fill="#111" textLength="24.7" lengthAdjust="spacingAndGlyphs">H463.90</text>
<text x="182.8" y="26.5" font-size="7" fill="#111" textLength="24.0" lengthAdjust="spacingAndGlyphs">L457.77</text>
<text x="211" y="26.5" font-size="7" fill="#111" textLength="24.3" lengthAdjust="spacingAndGlyphs">C458.97</text>
<text x="240" y="26.5" font-size="7" fill="#111" textLength="47.8" lengthAdjust="spacingAndGlyphs">−10.47 (−2.23%)</text>
<g fill="#0c0e15"><path d="M5.7,785.6 H10.05 V790.8 H7.9 V787.8 H5.7 Z"/><circle cx="11.55" cy="786.7" r="1.1"/><path d="M13.3,785.6 H16.4 L14.6,790.8 H12.4 Z"/></g>
<text x="19.3" y="790.9" font-size="7" fill="#2a2e39" textLength="39.6" lengthAdjust="spacingAndGlyphs">TradingView</text>
</svg></body></html>
